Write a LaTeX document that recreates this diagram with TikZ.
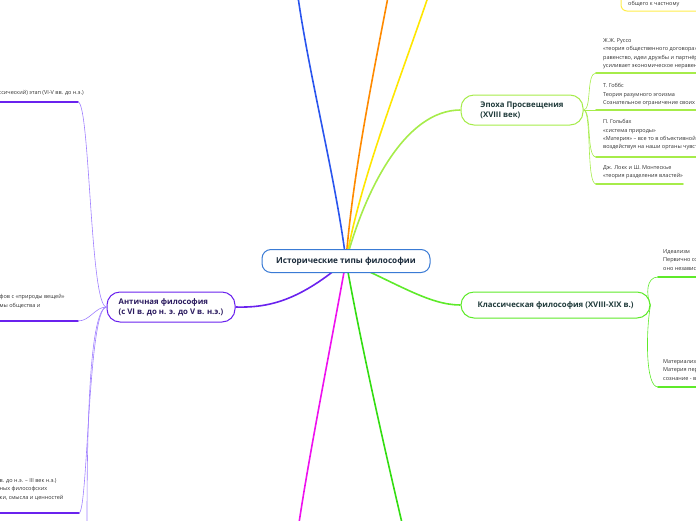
\documentclass[tikz,border=0pt]{standalone}
\usepackage{fontspec}
\setmainfont{Open Sans}
\usetikzlibrary{positioning, backgrounds}

\definecolor{rootblue}{HTML}{3A7BD5}
\definecolor{roottext}{HTML}{1B2B3B}
\definecolor{topictext}{HTML}{1F3A3A}
\definecolor{anttext}{HTML}{2A1A5E}
\definecolor{leafgray}{HTML}{333333}
\definecolor{brblue}{HTML}{2A55EE}
\definecolor{brorange}{HTML}{FF8A00}
\definecolor{bryellow}{HTML}{FFE600}
\definecolor{brlime}{HTML}{A6EC4A}
\definecolor{brgreen}{HTML}{5EEA2A}
\definecolor{brdown}{HTML}{33DD11}
\definecolor{brmagenta}{HTML}{EE11EE}
\definecolor{brpurple}{HTML}{6A22EE}
\definecolor{twigpurple}{HTML}{A080FF}

\begin{document}
\begin{tikzpicture}[
    x=1pt, y=-1pt,
    root/.style={rectangle, rounded corners=9pt, draw=rootblue, line width=1pt, fill=white, minimum width=168pt, minimum height=23pt, font=\bfseries\fontsize{8.2}{10}\selectfont, text=roottext},
    topic/.style={rectangle, rounded corners=13pt, line width=1pt, fill=white, align=left, minimum height=30pt, font=\bfseries\fontsize{7.8}{10}\selectfont, text=topictext},
    leaf/.style={anchor=north west, align=left, inner sep=0pt, font=\fontsize{5.5}{8.4}\selectfont, text=leafgray},
    branch/.style={line width=1.6pt},
    twig/.style={line width=0.6pt},
    uline/.style={line width=1.6pt, line cap=round}
]
    \useasboundingbox (0,0) rectangle (696,520);
    \clip (0,0) rectangle (696,520);

    % Central topic and main topics
    \node[root] (root) at (346,261) {Исторические типы философии};
    \node[topic, draw=brlime, minimum width=122pt] (ench) at (522,110) {Эпоха Просвещения\\(XVIII век)};
    \node[topic, draw=brgreen, minimum width=189pt, minimum height=26pt] (class) at (555.5,305) {Классическая философия (XVIII-XIX в.)};
    \node[topic, draw=brpurple, minimum width=128pt, text=anttext] (ant) at (171,307) {Античная философия\\(с VI в. до н. э. до V в. н.э.)};

    % Branches leaving the picture
    \coordinate (tb) at (298,-3);
    \coordinate (to) at (388,-3);
    \coordinate (ty) at (428,-3);
    \coordinate (tg) at (402,523);
    \coordinate (tm) at (299,523);
    \coordinate (ab) at (87,523);

    \begin{scope}[on background layer]
        \draw[branch, brblue] (root.center) .. controls (336,180) and (310,80) .. (tb);
        \draw[branch, brorange] (root.center) .. controls (352,180) and (372,80) .. (to);
        \draw[branch, bryellow] (root.center) .. controls (360,180) and (400,80) .. (ty);
        \draw[branch, brlime] (root.center) .. controls (365,190) and (405,110) .. (ench.west);
        \draw[branch, brgreen] (root.center) .. controls (400,285) and (430,305) .. (class.west);
        \draw[branch, brdown] (root.center) .. controls (362,350) and (385,450) .. (tg);
        \draw[branch, brmagenta] (root.center) .. controls (330,350) and (310,450) .. (tm);
        \draw[branch, brpurple] (root.center) .. controls (300,300) and (270,308) .. (ant.east);
    \end{scope}

    % Top right leaf (cut)
    \node[leaf] (gen) at (628,1.3) {общего к частному};
    \draw[line width=1pt, bryellow!70, rounded corners=6pt] (621,-5) |- (700,11);

    % Enlightenment leaves
    \coordinate (u1) at (596,73);
    \coordinate (u2) at (596,110);
    \coordinate (u3) at (596,157);
    \coordinate (u4) at (596,184);
    \node[leaf] (russo) at (603,38.3) {Ж.Ж. Руссо\\«теория общественного договора»\\равенство, идеи дружбы и партнёрства\\усиливает экономическое неравенство};
    \node[leaf] (hobbes) at (603,83.3) {Т. Гоббс\\Теория разумного эгоизма\\Сознательное ограничение своих};
    \node[leaf] (holbach) at (603,119.3) {П. Гольбах\\«система природы»\\«Материя» – все то в объективной\\воздействуя на наши органы чувств};
    \node[leaf] (locke) at (603,165.3) {Дж. Локк и Ш. Монтескье\\«теория разделения властей»};
    \draw[uline, brlime] (u1) -- (700,73);
    \draw[uline, brlime] (u2) -- (700,110);
    \draw[uline, brlime] (u3) -- (700,157);
    \draw[uline, brlime] (u4) -- (683,184);
    \draw[twig, brlime] (ench.east) .. controls (592,110) and (586,73) .. (u1);
    \draw[twig, brlime] (ench.east) -- (u2);
    \draw[twig, brlime] (ench.east) .. controls (592,110) and (586,157) .. (u3);
    \draw[twig, brlime] (ench.east) .. controls (592,110) and (586,184) .. (u4);

    % Classical leaves
    \coordinate (c1) at (658,277);
    \coordinate (c2) at (658,387);
    \node[leaf] (ideal) at (663,249.3) {Идеализм\\Первично сознание\\оно независимо};
    \node[leaf] (mater) at (663,359.3) {Материализм\\Материя первична\\сознание - вторично};
    \draw[uline, brgreen] (c1) -- (700,277);
    \draw[uline, brgreen] (c2) -- (700,387);
    \draw[twig, brgreen] (class.east) .. controls (646,295) and (646,277) .. (c1);
    \draw[twig, brgreen] (class.east) .. controls (646,330) and (645,387) .. (c2);

    % Antique leaves (cut)
    \coordinate (a1) at (78,102);
    \coordinate (a2) at (78,321);
    \coordinate (a3) at (79,513);
    \node[leaf] (stage) at (-1.5,90.3) {ссический) этап (VI-V вв. до н.э.)};
    \node[leaf, anchor=base west, font=\fontsize{7}{9}\selectfont] (brk) at (-2.5,282) {)};
    \node[leaf] (nature) at (-0.5,294.3) {фов с «природы вещей»\\мы общества и};
    \node[leaf] (late) at (-0.5,478.3) {в. до н.э. – III век н.э.)\\ных философских\\ки, смысла и ценностей};
    \draw[uline, brpurple] (-5,102) -- (a1);
    \draw[uline, brpurple] (-5,321) -- (a2);
    \draw[uline, brpurple] (-5,513) -- (a3);
    \draw[twig, twigpurple] (ant.west) .. controls (90,307) and (90,102) .. (a1);
    \draw[twig, twigpurple] (ant.west) .. controls (95,307) and (90,321) .. (a2);
    \draw[twig, twigpurple] (ant.west) .. controls (88,307) and (88,513) .. (a3);
    \draw[twig, twigpurple] (ant.west) .. controls (90,310) and (87,420) .. (ab);
\end{tikzpicture}
\end{document}
